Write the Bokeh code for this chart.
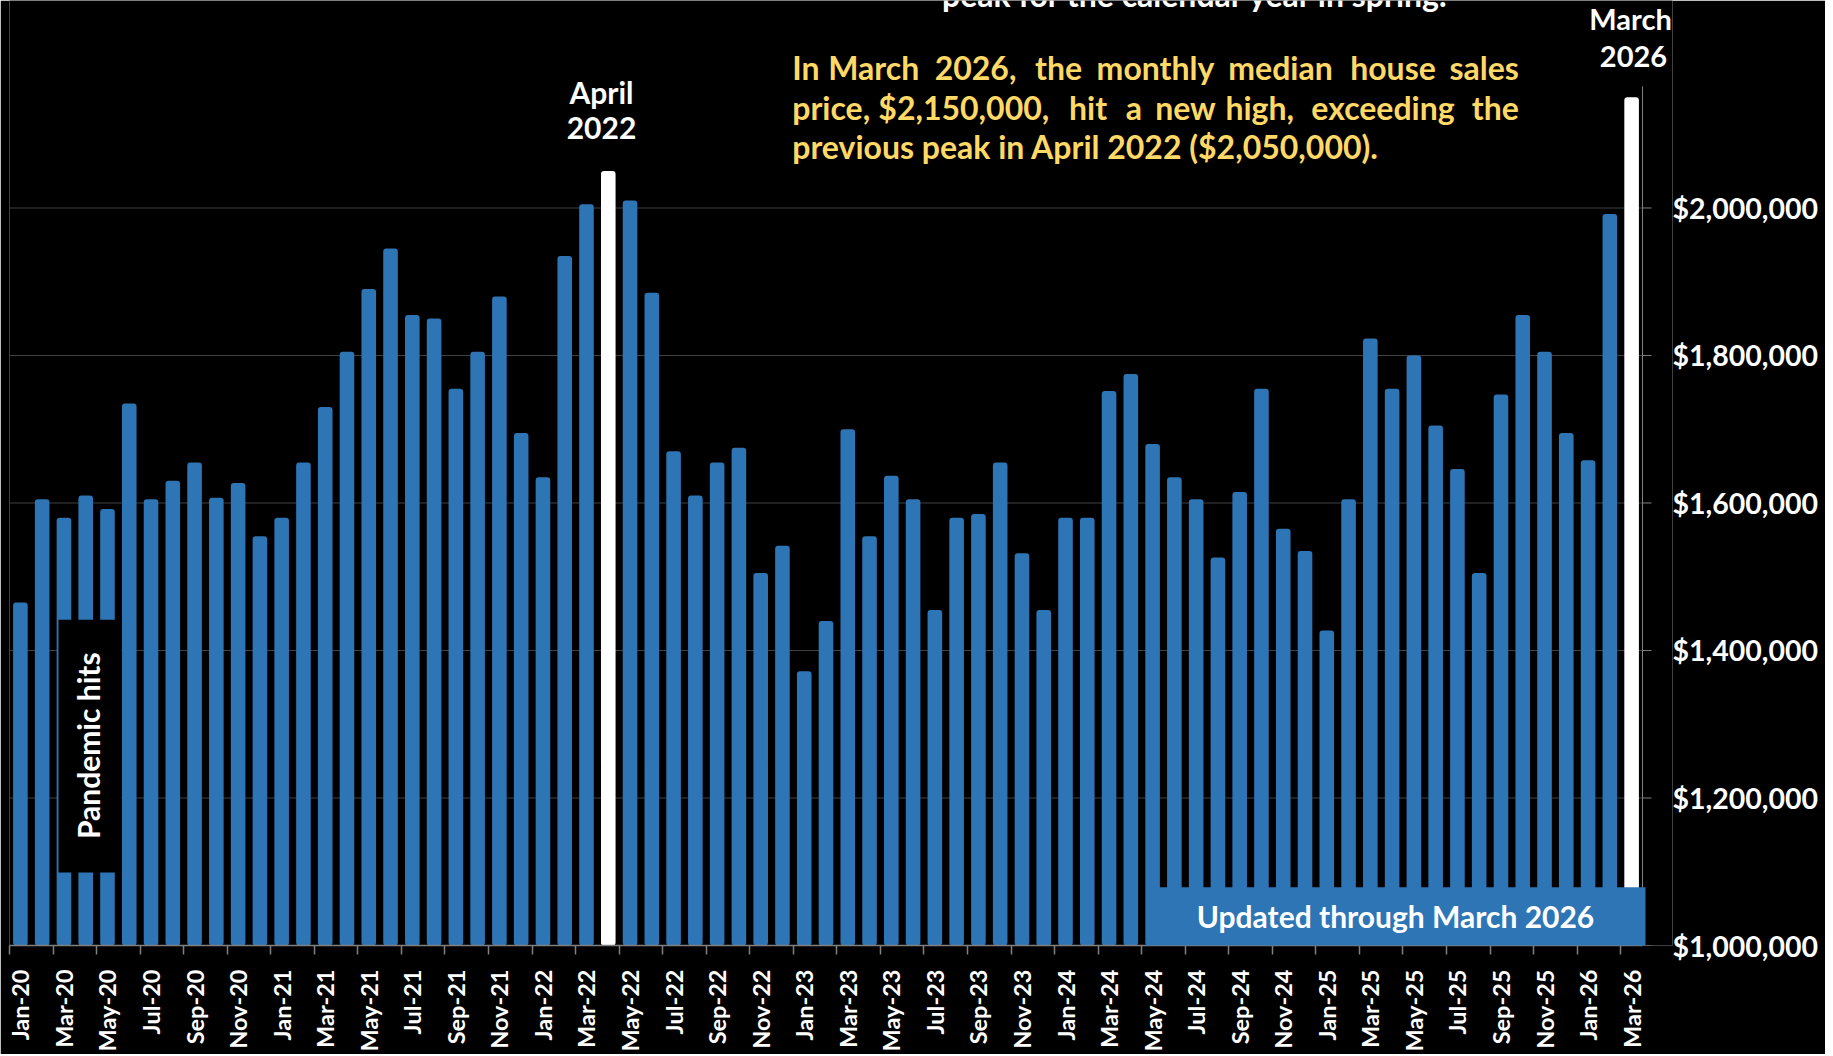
import math
import pandas as pd
from bokeh.plotting import figure
from bokeh.models import (ColumnDataSource, LinearAxis, Range1d, FixedTicker,
                          NumeralTickFormatter, Label, BoxAnnotation)
from bokeh.embed import file_html
from bokeh.resources import INLINE

# ---------------- data ----------------
months = list(pd.date_range("2020-01-01", "2026-03-01", freq="MS").strftime("%b-%y"))

prices_2020 = [1465000, 1605000, 1580000, 1610000, 1592000, 1735000,
               1605000, 1630000, 1655000, 1607000, 1627000, 1555000]
prices_2021 = [1580000, 1655000, 1730000, 1805000, 1890000, 1945000,
               1855000, 1850000, 1755000, 1805000, 1880000, 1695000]
prices_2022 = [1635000, 1935000, 2005000, 2050000, 2010000, 1885000,
               1670000, 1610000, 1655000, 1675000, 1505000, 1542000]
prices_2023 = [1372000, 1440000, 1700000, 1555000, 1637000, 1605000,
               1455000, 1580000, 1585000, 1655000, 1532000, 1455000]
prices_2024 = [1580000, 1580000, 1752000, 1775000, 1680000, 1635000,
               1605000, 1526000, 1615000, 1755000, 1565000, 1535000]
prices_2025 = [1427000, 1605000, 1823000, 1755000, 1800000, 1705000,
               1646000, 1505000, 1747000, 1855000, 1805000, 1695000]
prices_2026 = [1658000, 1992000, 2150000]

prices = prices_2020 + prices_2021 + prices_2022 + prices_2023 + prices_2024 + prices_2025 + prices_2026
highlight_months = ["Apr-22", "Mar-26"]
label_months = months[::2]
value_ticks = [1000000, 1200000, 1400000, 1600000, 1800000, 2000000]

# ---------------- style ----------------
BLUE = "#2E75B6"
WHITE = "#FFFFFF"
GOLD = "#FFD966"
AXIS_GRAY = "#808080"
GRID_GRAY = "#404040"
FONT = "Lato"

N = len(months)
colors = [WHITE if m in highlight_months else BLUE for m in months]
src = ColumnDataSource(dict(x=list(range(N)), month=months, price=prices, color=colors))

# pixel geometry of the reference chart
X_LEFT, X_AXIS = 9.0, 1642.0       # first category edge / value-axis line
FRAME_RIGHT = 1672.0               # frame extends a bit right of the axis line
Y_BASE, PX_PER_M = 946.0, 738.3    # baseline ($1M) and pixels per $1M
W, H = 1825, 1054
CAT_W = (X_AXIS - X_LEFT) / N

Y0 = 1_000_000
Y1 = Y0 + Y_BASE / PX_PER_M * 1_000_000          # value at the canvas top
AXIS_TOP = Y0 + (Y_BASE - 86) / PX_PER_M * 1_000_000
X_END = -0.5 + (FRAME_RIGHT - X_LEFT) / CAT_W
AX = N - 0.5                                     # value-axis position (data)
TICK = 9 / CAT_W                                 # tick length in data units

p = figure(width=W, height=H, output_backend="svg", toolbar_location=None,
           x_range=Range1d(-0.5, X_END), y_range=Range1d(Y0, Y1),
           x_axis_location=None, y_axis_location=None,
           min_border_left=int(X_LEFT), min_border_right=int(W - FRAME_RIGHT),
           min_border_top=0, min_border_bottom=int(H - Y_BASE),
           background_fill_color="black", border_fill_color="black",
           outline_line_color=None)
p.grid.visible = False

# horizontal gridlines (under the bars), value axis line and its tick marks
p.segment(x0=-0.5, x1=AX, y0=value_ticks, y1=value_ticks, line_color=GRID_GRAY,
          line_width=1.2, level="underlay")

p.vbar(x="x", top="price", bottom=Y0, width=0.67, fill_color="color",
       line_color=None, border_radius=3, source=src)

p.segment(x0=AX, x1=AX, y0=Y0, y1=AXIS_TOP, line_color=AXIS_GRAY, line_width=1)
p.segment(x0=AX, x1=AX + TICK, y0=value_ticks, y1=value_ticks,
          line_color=AXIS_GRAY, line_width=1)

# right value axis: labels only (line/ticks drawn at the chart's axis position)
yaxis = LinearAxis(ticker=FixedTicker(ticks=value_ticks, minor_ticks=[]),
                   formatter=NumeralTickFormatter(format="$0,0"),
                   axis_line_color=None,
                   major_tick_line_color=None, major_tick_out=0, major_tick_in=0,
                   minor_tick_line_color=None,
                   major_label_standoff=0,
                   major_label_text_color=WHITE, major_label_text_font=FONT,
                   major_label_text_font_style="bold",
                   major_label_text_font_size="28.5px")
p.add_layout(yaxis, "right")

# bottom month axis: labels every other month, tick marks at category boundaries
label_idx = [months.index(m) for m in label_months]
xaxis = LinearAxis(ticker=FixedTicker(ticks=label_idx, minor_ticks=[i - 0.5 for i in label_idx]),
                   bounds=(-0.5, AX),
                   major_label_overrides={i: months[i] for i in label_idx},
                   axis_line_color=AXIS_GRAY, axis_line_width=1.5,
                   major_tick_line_color=None, major_tick_out=0, major_tick_in=0,
                   minor_tick_line_color=AXIS_GRAY, minor_tick_out=9, minor_tick_in=0,
                   minor_tick_line_width=1.5,
                   major_label_orientation=math.pi / 2,
                   major_label_standoff=15,
                   major_label_text_color=WHITE, major_label_text_font=FONT,
                   major_label_text_font_style="bold",
                   major_label_text_font_size="23.5px")
p.add_layout(xaxis, "below")


# ---------------- annotations ----------------
def dx(xref):
    return (xref - X_LEFT) / CAT_W - 0.5


def dy(yref):
    return Y0 + (Y_BASE - yref) / PX_PER_M * 1_000_000


def lab(text, xref, base, size, color=WHITE, align="left"):
    # base: reference baseline in pixels; small correction for renderer's baseline offset
    p.add_layout(Label(x=dx(xref), y=dy(base - 0.38 * size), text=text, text_color=color,
                       text_font=FONT, text_font_style="bold",
                       text_font_size=f"{size}px", text_align=align,
                       text_baseline="alphabetic"))


# boxes drawn over the bars
p.add_layout(BoxAnnotation(left=dx(58), right=dx(121), bottom=dy(873), top=dy(620),
                           fill_color="black", fill_alpha=1.0, line_color=None))
p.add_layout(BoxAnnotation(left=dx(1145.5), right=dx(1645), bottom=dy(947.5), top=dy(887.7),
                           fill_color=BLUE, fill_alpha=1.0, line_color=None))

p.add_layout(Label(x=dx(87), y=dy(746), text="Pandemic hits", text_color=WHITE,
                   text_font=FONT, text_font_style="bold", text_font_size="30px",
                   text_align="center", text_baseline="middle", angle=math.pi / 2))
lab("Updated through March 2026", 1395, 927.5, 30, align="center")

lab("April", 601, 102.7, 30, align="center")
lab("2022", 601, 139.5, 30, align="center")
lab("March", 1630, 29.3, 29, align="center")
lab("2026", 1633, 66.7, 29, align="center")

# partially visible previous paragraph line at the top edge
lab("peak for the calendar year in spring.", 941.5, 6.5, 32)

# justified gold paragraph: first word left, last word right, others centred
LEFT_EDGE, RIGHT_EDGE = 791.7, 1518.3
line1 = [("In", None), ("March", 873.3), ("2026,", 975), ("the", 1058),
         ("monthly", 1155), ("median", 1280), ("house", 1392.5), ("sales", None)]
line2 = [("price,", None), ("$2,150,000,", 963.3), ("hit", 1087.5), ("a", 1133.3),
         ("new", 1185), ("high,", 1259.2), ("exceeding", 1382.5), ("the", None)]
for words, base in ((line1, 79.5), (line2, 119.0)):
    for k, (w, xc) in enumerate(words):
        if k == 0:
            lab(w, LEFT_EDGE, base, 32, color=GOLD, align="left")
        elif k == len(words) - 1:
            lab(w, RIGHT_EDGE, base, 32, color=GOLD, align="right")
        else:
            lab(w, xc, base, 32, color=GOLD, align="center")
lab("previous peak in April 2022 ($2,050,000).", LEFT_EDGE, 158.5, 32, color=GOLD)

open("out.html", "w").write(file_html(p, INLINE))
